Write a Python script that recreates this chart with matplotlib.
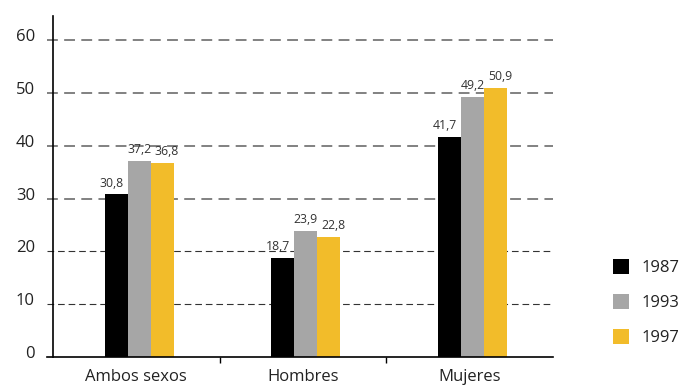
import matplotlib
matplotlib.use("Agg")
import matplotlib.pyplot as plt
import matplotlib.transforms as mtransforms
import numpy as np

plt.rcParams['font.family'] = ['Open Sans', 'DejaVu Sans']

categories = ["Ambos sexos", "Hombres", "Mujeres"]
years = ["1987", "1993", "1997"]
v1987 = [30.8, 18.7, 41.7]
v1993 = [37.2, 23.9, 49.2]
v1997 = [36.8, 22.8, 50.9]
yticks = [0, 10, 20, 30, 40, 50, 60]

colors = ["#000000", "#a6a6a6", "#f2bc2a"]
txt = "#222222"

fig = plt.figure(figsize=(6.82, 3.88), dpi=100)
ax = fig.add_axes([0.0777, 0.0799, 0.733, 0.879])

x = np.arange(len(categories)) + 0.017
w = 0.138
series = [v1987, v1993, v1997]
label_dx = [-3.5, 0, 3.5]  # spread the value labels a little so they don't touch
for i, (vals, c, yr) in enumerate(zip(series, colors, years)):
    xs = x + (i - 1) * w
    ax.bar(xs, vals, width=w, color=c, label=yr, zorder=3)
    for xi, v in zip(xs, vals):
        ax.annotate(f"{v:.1f}".replace(".", ","), (xi, v),
                    xytext=(label_dx[i], 3.5), textcoords="offset points",
                    ha="center", va="bottom", fontsize=8.8, color="#333333",
                    zorder=4)

# dashed guide lines, reaching a little past the y axis like tick marks
tr = ax.get_yaxis_transform()
for t in yticks[1:]:
    if t >= 30:
        ax.plot([-0.012, 1], [t, t], transform=tr, color="#777777", lw=1.3,
                ls=(0, (6, 3.5)), clip_on=False, zorder=1)
    else:
        ax.plot([-0.012, 1], [t, t], transform=tr, color="#333333", lw=0.8,
                ls=(0, (6, 3.5)), clip_on=False, zorder=1)
ax.plot([-0.012, 1], [0, 0], transform=tr, color="black", lw=1.2,
        clip_on=False, zorder=5)

ax.set_xlim(-0.5, 2.5)
ax.set_ylim(0, 64.6)
for s in ["top", "right", "bottom"]:
    ax.spines[s].set_visible(False)
ax.spines["left"].set_linewidth(1.2)
ax.spines["left"].set_zorder(5)

ax.set_yticks(yticks)
ax.set_yticklabels([str(t) for t in yticks], fontsize=12, color=txt)
ax.tick_params(axis="y", length=0, pad=13)
off = mtransforms.ScaledTranslation(0, -5 / 100, fig.dpi_scale_trans)
for lab in ax.get_yticklabels():
    lab.set_verticalalignment("bottom")
    lab.set_transform(lab.get_transform() + off)

ax.set_xticks(range(len(categories)))
ax.set_xticklabels(categories, fontsize=12, color=txt)
ax.tick_params(axis="x", which="major", length=0, pad=9)
ax.set_xticks([0.5, 1.5], minor=True)
ax.tick_params(axis="x", which="minor", length=4, width=1, color="black")

leg = ax.legend(loc="upper left", bbox_to_anchor=(1.106, 0.306), frameon=False,
                fontsize=12, handlelength=1.0, handleheight=1.0,
                handletextpad=0.75, labelspacing=1.05, borderaxespad=0)
for t in leg.get_texts():
    t.set_color(txt)

fig.savefig("out.png", dpi=100)
